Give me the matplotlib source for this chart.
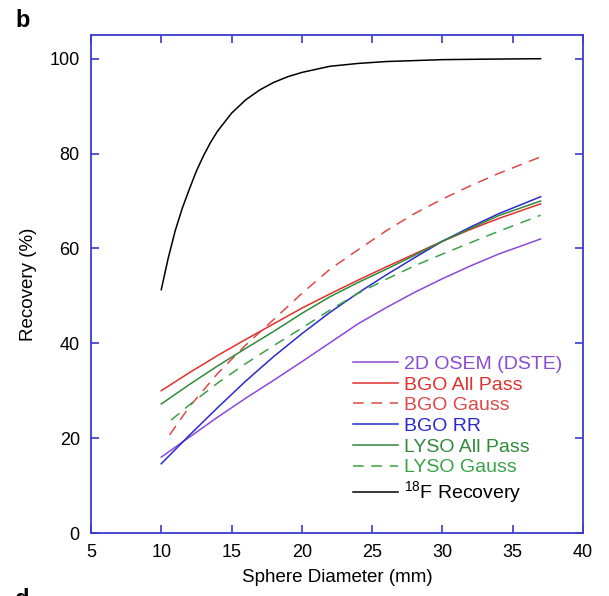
import matplotlib
matplotlib.use("Agg")
import matplotlib.pyplot as plt

plt.rcParams["font.family"] = ["Liberation Sans", "DejaVu Sans"]
plt.rcParams["mathtext.fontset"] = "custom"
plt.rcParams["mathtext.rm"] = "Liberation Sans"
plt.rcParams["mathtext.default"] = "regular"

# sphere diameters (mm)
x_main = [10, 12, 14, 16, 18, 20, 22, 24, 26, 28, 30, 32, 34, 37]
x_gauss_bgo = [10.6, 12, 14, 16, 18, 20, 22, 24, 26, 28, 30, 32, 34, 37]
x_gauss_lyso = [10.7, 12, 14, 16, 18, 20, 22, 24, 26, 28, 30, 32, 34, 37]
x_f18 = [10, 10.5, 11, 11.5, 12, 12.5, 13, 13.5, 14, 15, 16, 17, 18, 19, 20,
         22, 24, 26, 28, 30, 33, 37]

# recovery (%)
osem_2d = [16, 20.2, 24.4, 28.4, 32.2, 36.1, 40.1, 44.1, 47.5, 50.7, 53.6, 56.3, 58.8, 62]
bgo_all = [30, 33.8, 37.4, 40.8, 44.1, 47.4, 50.4, 53.3, 56.1, 58.8, 61.5, 64, 66.3, 69.4]
bgo_gauss = [20.7, 26.6, 33.6, 39.6, 45, 50.5, 55.6, 59.7, 63.7, 67.3, 70.4, 73.2, 75.8, 79.3]
bgo_rr = [14.6, 20.6, 26.4, 32, 37.2, 42, 46.5, 50.6, 54.4, 58, 61.5, 64.5, 67.3, 70.9]
lyso_all = [27.2, 31.3, 35.2, 38.9, 42.5, 46.3, 49.8, 52.8, 55.6, 58.5, 61.5, 64.2, 66.9, 70]
lyso_gauss = [23.8, 27, 31.6, 35.7, 39.5, 43.2, 47, 50.5, 53.5, 56.3, 58.8, 61.2, 63.6, 67]
f18 = [51.3, 58, 63.8, 68.5, 72.5, 76.3, 79.5, 82.3, 84.7, 88.5, 91.3, 93.4, 95,
       96.2, 97.1, 98.4, 99, 99.4, 99.6, 99.8, 99.9, 100]

labels = ["2D OSEM (DSTE)", "BGO All Pass", "BGO Gauss", "BGO RR",
          "LYSO All Pass", "LYSO Gauss", r"$^{18}$F Recovery"]
colors = ["#8a4ad8", "#e2302c", "#e04848", "#2a2ad0", "#2f8a3a", "#3aa246", "black"]

fig = plt.figure(figsize=(6.09, 5.96), dpi=100)
ax = fig.add_axes([0.1494, 0.1057, 0.8076, 0.8356])

series = [
    (x_main, osem_2d, "-"),
    (x_main, bgo_all, "-"),
    (x_gauss_bgo, bgo_gauss, (0, (7, 5))),
    (x_main, bgo_rr, "-"),
    (x_main, lyso_all, "-"),
    (x_gauss_lyso, lyso_gauss, (0, (7, 5))),
    (x_f18, f18, "-"),
]
for (xs, ys, ls), lab, c in zip(series, labels, colors):
    ax.plot(xs, ys, color=c, linestyle=ls, linewidth=1.1, label=lab)

ax.set_xlim(5, 40)
ax.set_ylim(0, 105)
ax.set_xticks(range(5, 41, 5))
ax.set_yticks(range(0, 101, 20))
for s in ax.spines.values():
    s.set_color("#3a3ad0")
    s.set_linewidth(1.3)
ax.tick_params(direction="in", top=True, right=True, length=6, width=1.2,
               color="#3a3ad0", labelsize=13, pad=8)

ax.set_xlabel("Sphere Diameter (mm)", fontsize=13.5, labelpad=6)
ax.set_ylabel("Recovery (%)", fontsize=13.5, labelpad=9)

leg = ax.legend(loc="upper left", bbox_to_anchor=(0.5325, 0.357), frameon=False,
                fontsize=14, handlelength=2.3, handletextpad=0.35,
                labelspacing=0.16, borderaxespad=0, borderpad=0)
for txt, c in zip(leg.get_texts(), colors):
    txt.set_color(c)

fig.text(0.025, 0.966, "b", fontsize=17, fontweight="bold", va="center")
fig.text(0.025, 0.013, "d", fontsize=17, fontweight="bold", va="top")

fig.savefig("out.png", dpi=100)
